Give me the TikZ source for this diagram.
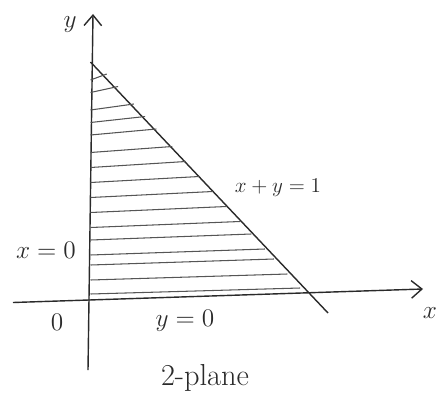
\documentclass[tikz,border=0pt]{standalone}
\usepackage{xcolor}
\usepackage{tikz}
\usetikzlibrary{arrows.meta, positioning, calc}
\definecolor{clrInk}{HTML}{2A2A2A}
\definecolor{clrHatch}{HTML}{555555}
\tikzset{
  axis line/.style={-{Straight Barb[length=6pt, width=10pt]}, thick, clrInk},
  bound line/.style={thick, clrInk},
  hatch line/.style={semithick, clrHatch},
  lbl/.style={font=\Large, text=clrInk, inner sep=1pt},
}
\begin{document}
\begin{tikzpicture}
  \useasboundingbox (-1.76,-2.34) rectangle (7.14,6.0);

  % Axes
  \coordinate (origin) at (0,0);
  \coordinate (yBot) at (0,-1.4);
  \coordinate (yTop) at (0.1,5.72);
  \coordinate (xLeft) at (-1.5,-0.05);
  \coordinate (xRight) at (6.7,0.22);
  \draw[axis line] (yBot) -- (yTop);
  \draw[axis line] (xLeft) -- (xRight);

  % Boundary x+y=1
  \coordinate (apex) at (0.05,4.76);
  \coordinate (lineEnd) at (4.8,-0.26);
  \draw[bound line] (apex) -- (lineEnd);

  % Hatching
  \foreach \h in {0.12,0.4,0.7,0.9,1.2,1.45,1.75,2.05,2.35,2.65,2.95,3.3,3.55,3.8,4.15,4.4} {
    \draw[hatch line] (0.05,\h) -- ($(0.05,\h)+({4.3*(1-\h/4.76)},0.12)$);
  }

  % Labels
  \node[lbl] (yLbl) at (-0.36,5.5) {$y$};
  \node[lbl] (xLbl) at (6.84,-0.26) {$x$};
  \node[lbl] (zeroLbl) at (-0.62,-0.44) {0};
  \node[lbl] (yZero) at (1.94,-0.42) {$y=0$};
  \node[lbl] (xZero) at (-0.84,1.0) {$x=0$};
  \node[lbl, font=\large] (lineLbl) at (3.8,2.25) {$x+y=1$};
  \node[lbl, font=\LARGE] (planeLbl) at (2.34,-1.56) {2-plane};
\end{tikzpicture}
\end{document}
